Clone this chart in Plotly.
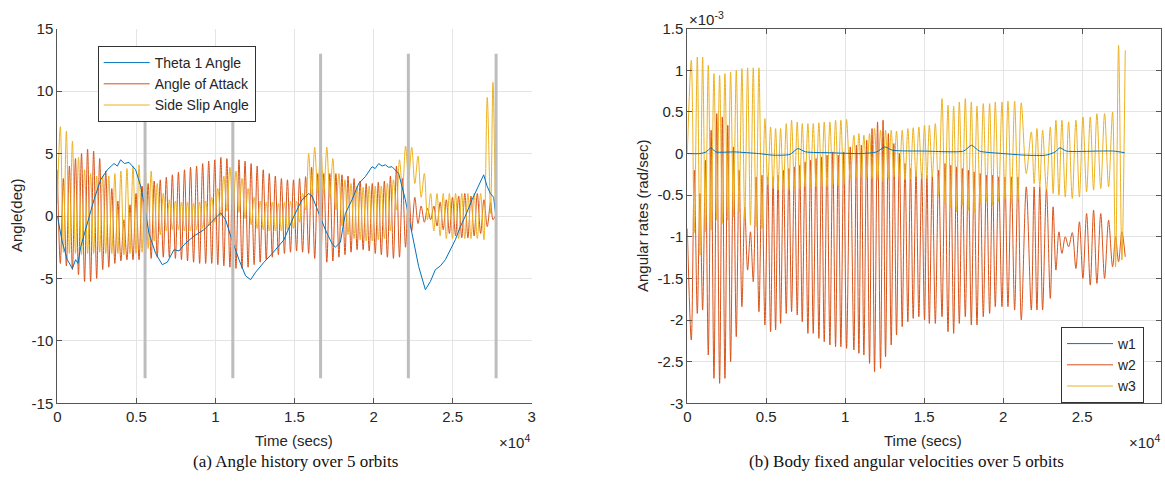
import plotly.graph_objects as go

# ================= LEFT PANEL: angle history (deg) =================
# cycle times (s) of Angle-of-Attack peaks
tl = [0, 383, 766, 1149, 1532, 1915, 2298, 2681, 3064, 3447,
      3830, 4213, 4596, 4979, 5362, 5745, 6128, 6511, 6894, 7277,
      7660, 8043, 8426, 8809, 9192, 9575, 9958, 10341, 10724, 11107,
      11490, 11873, 12256, 12639, 13022, 13405, 13788, 14171, 14554, 14937,
      15320, 15703, 16086, 16469, 16852, 17235, 17618, 18001, 18384, 18767,
      19150, 19533, 19916, 20299, 20682, 21065, 21448, 21831, 22214, 22610,
      23010, 23410, 23810, 24210, 24600, 24990, 25380, 25770, 26160, 26560,
      26980, 27400, 27700]
# Angle of Attack: peaks (at tl) and troughs (between)
ao_hi = [3.7, 3.0, 4.0, 4.6, 5.0, 5.35, 5.2, 4.6, 3.6, 2.2,
         1.2, -0.3, 0.9, 1.8, 2.4, 2.6, 2.8, 2.9, 3.1, 3.3,
         3.5, 3.7, 3.9, 4.0, 4.2, 4.4, 4.5, 4.7, 4.6, 4.5,
         4.5, 4.4, 4.2, 4.0, 3.7, 3.4, 3.2, 3.0, 2.9, 2.9,
         3.0, 3.15, 3.9, 3.4, 3.4, 3.4, 3.4, 3.3, 3.2, 3.0,
         2.8, 2.6, 2.6, 2.7, 2.8, 3.2, 4.0, 3.0, 2.2, 1.5,
         0.8, 0.6, 0.8, 1.1, 1.3, 1.5, 1.6, 1.8, 1.6, 1.8,
         1.3, 1.1, 0.0]
ao_lo = [-3.8, -4.0, -4.3, -4.7, -5.25, -5.25, -5.0, -4.3, -4.1, -3.8,
         -3.6, -3.5, -3.5, -3.5, -3.4, -3.4, -3.3, -3.3, -3.3, -3.4,
         -3.5, -3.6, -3.7, -3.8, -3.8, -3.8, -3.9, -4.0, -4.1, -4.2,
         -4.2, -4.1, -3.9, -3.7, -3.5, -3.3, -3.1, -3.0, -2.9, -2.8,
         -2.9, -3.0, -3.4, -3.6, -3.7, -3.6, -3.3, -3.1, -2.9, -2.7,
         -2.7, -2.8, -3.0, -3.1, -3.3, -3.4, -3.3, -2.5, -1.2, -0.6,
         -0.5, -0.3, -0.8, -1.1, -1.4, -1.6, -1.75, -1.75, -1.6, -1.4,
         -0.85, -0.3]
# Side slip: troughs (at tl) and peaks (between)
ss_lo = [1.0, -2.9, -3.0, -3.0, -3.1, -3.0, -3.0, -2.9, -3.0, -3.0,
         -3.0, -3.1, -3.0, -3.0, -2.9, -2.6, -2.0, -1.5, -1.2, -1.1,
         -1.1, -1.2, -1.2, -1.1, -1.0, -0.8, -0.5, 0.0, 0.4, 0.5,
         0.3, -0.2, -0.7, -1.0, -1.1, -1.2, -1.2, -1.2, -1.1, -1.0,
         -0.5, 0.5, 1.5, 1.8, 1.8, 1.5, 0.5, -0.8, -1.5, -1.8,
         -1.9, -2.0, -2.0, -1.9, -1.8, -1.2, 0.5, 2.0, 3.0, 2.6,
         1.5, -0.3, -1.2, -1.6, -1.8, -1.8, -1.8, -1.8, -1.8, -1.8,
         -1.9, 0.2, 0.5]
ss_hi = [7.15, 6.8, 6.0, 4.7, 3.7, 3.4, 3.2, 3.2, 3.2, 3.4,
         3.6, 3.8, 4.0, 4.1, 4.0, 3.6, 2.6, 1.8, 1.3, 1.2,
         1.1, 1.1, 1.0, 1.1, 1.2, 1.5, 2.2, 3.2, 3.9, 3.6,
         3.0, 2.2, 1.5, 1.2, 1.1, 1.1, 1.0, 1.1, 1.2, 1.2,
         1.8, 5.0, 5.5, 5.6, 5.5, 4.6, 3.4, 2.9, 2.6, 2.4,
         2.3, 2.4, 2.4, 2.4, 2.6, 2.9, 4.5, 5.6, 5.5, 4.8,
         3.4, 1.8, 1.8, 1.8, 1.8, 1.8, 1.8, 1.8, 1.8, 1.8,
         9.5, 10.7]
# Theta 1 angle
th_t = [0, 316, 632, 949, 1159, 1307, 1476, 1897, 2319, 2740, 3162, 3584, 3800, 4005,
        4250, 4532, 4954, 5270, 5523, 5797, 6219, 6640, 6956, 7378, 7700, 8010, 8643, 9275,
        9908, 10329, 10645, 10962, 11489, 11910, 12226, 12543, 13070, 13597,
        14334, 14967, 15475, 15897, 16108, 16529, 16951, 17373, 17583, 17900,
        18216, 18637, 19059, 19480, 19902, 20100, 20324, 20540, 20745, 20950, 21167, 21589, 22010,
        22432, 22853, 23275, 23591, 23907, 24224, 24540, 24856, 25172, 25489,
        25805, 26226, 26648, 26964, 27175, 27385, 27596, 27700]
th_v = [0, -2.1, -3.5, -4.2, -3.5, -3.8, -2.5, -0.6, 1.3, 2.9, 3.7, 4.2, 4.0, 4.5,
        4.2, 4.3, 3.7, 2.4, 0.8, -1.4, -3.0, -3.9, -3.7, -2.7, -2.8, -2.3, -1.6, -1.1,
        -0.3, 0.25, -0.3, -1.6, -3.5, -4.8, -5.1, -4.5, -3.7, -3.0,
        -1.9, 0.0, 1.3, 1.8, 1.6, 0.3, -1.1, -2.2, -2.5, -2.1,
        0.2, 1.3, 2.6, 3.15, 3.95, 3.8, 4.2, 4.0, 4.1, 3.9, 3.95, 3.4, 1.3,
        -1.4, -4.05, -5.9, -5.25, -4.3, -4.0, -3.5, -2.7, -1.9, -0.85,
        0.0, 1.3, 2.4, 3.3, 2.4, 1.8, 1.5, 0.3]
orbit_t = [5550, 11100, 16650, 22200, 27750]
orbit_span = [-13, 13]

# ================= RIGHT PANEL: angular rates (x1e-3 rad/s) =================
tr = [253, 633, 971, 1329, 1688, 2047, 2384, 2743, 3102, 3460, 3819, 4178, 4537,
      4916, 5275, 5592, 5908, 6267, 6604, 6963, 7280, 7638, 7976, 8335, 8672, 9031, 9390, 9727, 10086,
      10550, 10867, 11183, 11542, 11858, 12238, 12555, 12913, 13251, 13610, 13968, 14306, 14665, 15023, 15328, 15708,
      16130, 16510, 16869, 17227, 17607, 17987, 18346, 18746, 19147, 19506, 19928, 20308, 20730, 21152,
      21785, 22144, 22502, 22990, 23346, 23726, 24148, 24612, 25055, 25520, 25941, 26427, 26933,
      27313, 27735]
w3_pk = [1.12, 1.16, 1.16, 1.06, 0.96, 0.94, 0.96, 0.98, 1.0, 1.02, 1.03, 1.03, 1.03,
         0.42, 0.32, 0.30, 0.30, 0.36, 0.40, 0.38, 0.36, 0.36, 0.36, 0.37, 0.38, 0.38, 0.40, 0.40, 0.41,
         0.22, 0.24, 0.22, 0.24, 0.30, 0.28, 0.28, 0.28, 0.27, 0.28, 0.30, 0.31, 0.32, 0.34, 0.34, 0.36,
         0.66, 0.58, 0.57, 0.62, 0.66, 0.62, 0.57, 0.60, 0.60, 0.62, 0.62, 0.63, 0.63, 0.61,
         0.26, 0.30, 0.28, 0.32, 0.40, 0.40, 0.38, 0.40, 0.44, 0.44, 0.48, 0.48, 0.50,
         1.30, 1.24]
w3_tr = [-0.95, -1.22, -0.94, -0.92, -0.80, -0.84, -0.80, -0.76, -0.70, -0.80, -0.86, -0.88, -0.90,
         -0.38, -0.42, -0.44, -0.44, -0.44, -0.42, -0.42, -0.40, -0.40, -0.40, -0.40, -0.40, -0.38, -0.38, -0.38, -0.30,
         -0.28, -0.28, -0.30, -0.30, -0.32, -0.34, -0.30, -0.28, -0.30, -0.32, -0.30, -0.28, -0.30, -0.30, -0.28, -0.50,
         -0.60, -0.65, -0.70, -0.62, -0.68, -0.72, -0.60, -0.58, -0.62, -0.58, -0.55, -0.60, -0.55, -0.24,
         -0.36, -0.40, -0.44, -0.48, -0.50, -0.52, -0.54, -0.52, -0.46, -0.44, -0.42, -0.40, -1.36,
         -1.28]
w2_lo = [-2.24, -1.92, -1.88, -2.42, -2.70, -2.76, -2.70, -2.50, -2.20, -1.84, -1.40, -1.54, -1.90,
         -2.06, -2.14, -2.12, -2.04, -1.92, -1.90, -1.94, -2.02, -2.16, -2.16, -2.22, -2.26, -2.30, -2.32, -2.32, -2.34,
         -2.36, -2.40, -2.42, -2.52, -2.62, -2.58, -2.44, -2.30, -2.18, -2.08, -2.02, -1.98, -1.96, -2.00, -2.04, -2.04,
         -1.96, -2.14, -2.16, -2.04, -1.96, -2.06, -2.06, -1.96, -1.92, -1.84, -1.84, -1.84, -1.88, -2.00,
         -1.88, -1.88, -1.88, -1.74, -1.40, -1.20, -1.12, -1.38, -1.50, -1.58, -1.56, -1.50, -1.36,
         -1.30, -1.24]
w2_hi = [-0.20, -0.48, -0.08, 0.28, 0.48, 0.44, 0.34, 0.08, -0.20, -0.64, -0.94, -0.28, -0.26,
         -0.28, -0.28, -0.26, -0.20, -0.18, -0.16, -0.14, -0.10, -0.08, -0.06, -0.04, -0.02, 0.02, -0.02, 0.02, 0.08,
         0.10, 0.10, 0.16, 0.30, 0.38, 0.40, 0.24, 0.12, 0.00, -0.12, -0.18, -0.22, -0.24, -0.26, -0.26, -0.20,
         -0.12, -0.14, -0.16, -0.18, -0.20, -0.22, -0.24, -0.26, -0.26, -0.28, -0.28, -0.28, -0.28, -0.40,
         -0.40, -0.40, -0.42, -0.64, -0.94, -1.00, -0.95, -0.82, -0.72, -0.68, -0.72, -0.80, -1.00,
         -0.94]
w_start = {"w2": -0.9, "w3": 0.0}
w1_t = [0, 800, 1200, 1500, 1800, 3000, 4500, 5500, 6500, 7000, 7500, 9000, 11000, 12000,
        12500, 13000, 15000, 17500, 18000, 18500, 20000, 21500, 22700, 23300, 23600, 24000,
        26000, 27000, 27700]
w1_v = [0, 0, 0.02, 0.07, 0.02, 0.02, 0, -0.02, -0.01, 0.06, 0.02, 0.01, 0.0, 0.02,
        0.08, 0.04, 0.03, 0.03, 0.10, 0.03, 0.0, -0.02, -0.02, 0.02, 0.07, 0.03,
        0.03, 0.03, 0.01]

x_tickvals = [0, 5000, 10000, 15000, 20000, 25000, 30000]
x_ticktext = ["0", "0.5", "1", "1.5", "2", "2.5", "3"]
yl_tickvals = [-15, -10, -5, 0, 5, 10, 15]
yl_ticktext = ["-15", "-10", "-5", "0", "5", "10", "15"]
yr_tickvals = [-3, -2.5, -2, -1.5, -1, -0.5, 0, 0.5, 1, 1.5]
yr_ticktext = ["-3", "-2.5", "-2", "-1.5", "-1", "-0.5", "0", "0.5", "1", "1.5"]

BLUE, ORANGE, YELLOW = "#0072BD", "#D95319", "#EDB120"


def zigzag(times, first, second, start=None):
    xs, ys = [], []
    if start is not None:
        xs.append(0)
        ys.append(start)
    for i, t in enumerate(times):
        xs.append(t)
        ys.append(first[i])
        if i < len(second):
            xs.append((t + times[i + 1]) / 2)
            ys.append(second[i])
    return xs, ys


def osc_line(color):
    return dict(color=color, width=1, shape="spline", smoothing=0.9)


fig = go.Figure()
ax, ay = zigzag(tl, ao_hi, ao_lo)
sx, sy = zigzag(tl, ss_lo, ss_hi)
fig.add_trace(go.Scatter(x=ax, y=ay, mode="lines", name="Angle of Attack", legendrank=2,
                         line=osc_line(ORANGE), xaxis="x", yaxis="y", legend="legend"))
fig.add_trace(go.Scatter(x=sx, y=sy, mode="lines", name="Side Slip Angle", legendrank=3,
                         line=osc_line(YELLOW), xaxis="x", yaxis="y", legend="legend"))
fig.add_trace(go.Scatter(x=th_t, y=th_v, mode="lines", name="Theta 1 Angle", legendrank=1,
                         line=dict(color=BLUE, width=1), xaxis="x", yaxis="y", legend="legend"))
for ot in orbit_t:
    fig.add_trace(go.Scatter(x=[ot, ot], y=orbit_span, mode="lines", showlegend=False,
                             line=dict(color="#BDBDBD", width=3), xaxis="x", yaxis="y"))

bx, by = zigzag(tr, w2_lo, w2_hi, start=w_start["w2"])
cx, cy = zigzag(tr, w3_pk, w3_tr, start=w_start["w3"])
fig.add_trace(go.Scatter(x=bx, y=by, mode="lines", name="w2", legendrank=2,
                         line=osc_line(ORANGE), xaxis="x2", yaxis="y2", legend="legend2"))
fig.add_trace(go.Scatter(x=cx, y=cy, mode="lines", name="w3", legendrank=3,
                         line=osc_line(YELLOW), xaxis="x2", yaxis="y2", legend="legend2"))
fig.add_trace(go.Scatter(x=w1_t, y=w1_v, mode="lines", name="w1", legendrank=1,
                         line=dict(color=BLUE, width=1, shape="spline", smoothing=0.6),
                         xaxis="x2", yaxis="y2", legend="legend2"))

W, H = 1165, 498
FONT = "Liberation Sans, Arial, sans-serif"
TXT = "#262626"
y_dom = [1 - 403.3 / H, 1 - 28.7 / H]

axis_common = dict(showline=True, linecolor="#555555", linewidth=1, ticks="inside", ticklen=5,
                   tickcolor="#555555", showgrid=True, gridcolor="#E4E4E4", gridwidth=1,
                   zeroline=False, automargin=False,
                   tickfont=dict(family=FONT, size=15, color=TXT))

fig.update_layout(
    width=W, height=H, margin=dict(l=0, r=0, t=0, b=0, pad=0, autoexpand=False),
    paper_bgcolor="white", plot_bgcolor="white", showlegend=True,
    xaxis=dict(domain=[57.3 / W, 531.7 / W], range=[0, 30000], tickvals=x_tickvals,
               ticktext=x_ticktext, anchor="y", mirror=False, **axis_common),
    yaxis=dict(domain=y_dom, range=[-15, 15], tickvals=yl_tickvals, ticktext=yl_ticktext,
               anchor="x", mirror=False, **axis_common),
    xaxis2=dict(domain=[687.3 / W, 1161 / W], range=[0, 30000], tickvals=x_tickvals,
                ticktext=x_ticktext, anchor="y2", mirror="ticks", **axis_common),
    yaxis2=dict(domain=y_dom, range=[-3, 1.5], tickvals=yr_tickvals, ticktext=yr_ticktext,
                anchor="x2", mirror="ticks", **axis_common),
    legend=dict(x=97.7 / W, y=1 - 46 / H, xanchor="left", yanchor="top", bgcolor="white",
                bordercolor="#333333", borderwidth=1, font=dict(family=FONT, size=14, color=TXT),
                tracegroupgap=0, itemwidth=46),
    legend2=dict(x=1061 / W, y=1 - 327 / H, xanchor="left", yanchor="top", bgcolor="white",
                 bordercolor="#333333", borderwidth=1, font=dict(family=FONT, size=14, color=TXT),
                 tracegroupgap=0, itemwidth=46),
)

ann_font = dict(family=FONT, size=15, color=TXT)
cap_font = dict(family="Liberation Serif, DejaVu Serif, serif", size=17, color="#111111")
anns = [
    dict(text="Angle(deg)", x=16 / W, y=1 - 216 / H, textangle=-90, font=ann_font),
    dict(text="Time (secs)", x=294 / W, y=1 - 440 / H, font=ann_font),
    dict(text="×10<sup>4</sup>", x=532 / W, y=1 - 441 / H, xanchor="right", font=ann_font),
    dict(text="Angular rates (rad/sec)", x=642 / W, y=1 - 216 / H, textangle=-90, font=ann_font),
    dict(text="Time (secs)", x=923 / W, y=1 - 440 / H, font=ann_font),
    dict(text="×10<sup>4</sup>", x=1162 / W, y=1 - 441 / H, xanchor="right", font=ann_font),
    dict(text="×10<sup>-3</sup>", x=687 / W, y=1 - 18 / H, xanchor="left", font=ann_font),
    dict(text="(a) Angle history over 5 orbits", x=295 / W, y=1 - 461 / H, font=cap_font),
    dict(text="(b) Body fixed angular velocities over 5 orbits", x=906 / W, y=1 - 461 / H, font=cap_font),
]
for a in anns:
    a.setdefault("xanchor", "center")
    fig.add_annotation(xref="paper", yref="paper", showarrow=False, yanchor="middle", **a)

fig.write_html("out.html")
